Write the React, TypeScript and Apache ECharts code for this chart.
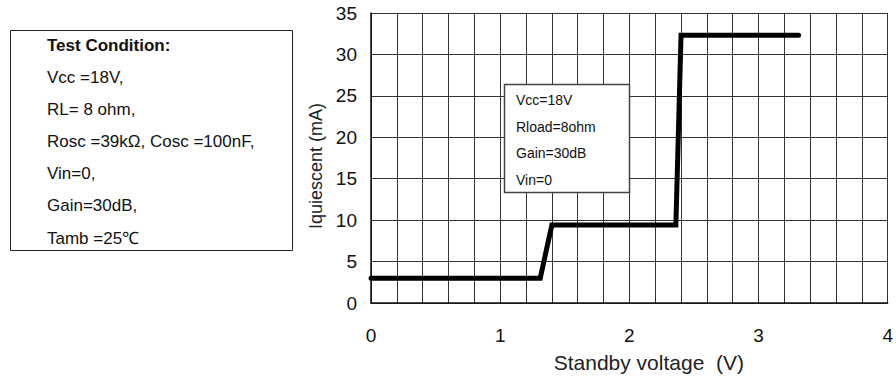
import React, { useEffect, useRef } from "react";
import * as echarts from "echarts";

const xValues = [0, 1.31, 1.4, 2.36, 2.4, 3.31];
const yValues = [3.0, 3.0, 9.4, 9.4, 32.3, 32.3];
const conditionLines = [
  "Vcc =18V,",
  "RL= 8 ohm,",
  "Rosc =39kΩ, Cosc =100nF,",
  "Vin=0,",
  "Gain=30dB,",
  "Tamb =25℃",
];
const legendLines = ["Vcc=18V", "Rload=8ohm", "Gain=30dB", "Vin=0"];
const font = "Arial, 'Liberation Sans', Helvetica, sans-serif";

export default function App() {
  const ref = useRef<HTMLDivElement>(null);
  useEffect(() => {
    if (!ref.current) return;
    const chart = echarts.init(ref.current, null, { renderer: "svg" });
    const graphics: any[] = [
      {
        type: "rect",
        shape: { x: 10.5, y: 30.5, width: 282, height: 220 },
        style: { fill: "#fff", stroke: "#222", lineWidth: 1 },
      },
      {
        type: "text",
        x: 47,
        y: 45,
        style: { text: "Test Condition:", font: `bold 17px ${font}`, fill: "#111", verticalAlign: "middle" },
      },
      ...conditionLines.map((t, i) => ({
        type: "text",
        x: 47,
        y: 77 + i * 32.2,
        style: { text: t, font: `17px ${font}`, fill: "#111", verticalAlign: "middle" },
      })),
      {
        type: "rect",
        z: 10,
        shape: { x: 504.5, y: 84.5, width: 125, height: 108 },
        style: { fill: "#fff", stroke: "#444", lineWidth: 1.5 },
      },
      ...legendLines.map((t, i) => ({
        type: "text",
        z: 11,
        x: 516,
        y: 100 + i * 26.5,
        style: { text: t, font: `14px ${font}`, fill: "#111", verticalAlign: "middle" },
      })),
    ];
    chart.setOption({
      animation: false,
      grid: { left: 371, right: 8, top: 13, bottom: 76, containLabel: false },
      xAxis: {
        type: "value",
        min: 0,
        max: 4,
        interval: 0.2,
        name: "Standby voltage  (V)",
        nameLocation: "middle",
        nameGap: 49,
        nameTextStyle: { fontSize: 21, color: "#222", fontFamily: font, padding: [0, 0, 0, 39] },
        axisLine: { show: true, lineStyle: { color: "#111", width: 1.5 } },
        axisTick: { show: false },
        axisLabel: {
          margin: 23,
          fontSize: 19,
          color: "#111",
          fontFamily: font,
          formatter: (v: number) => (Math.abs(v - Math.round(v)) < 1e-6 ? String(Math.round(v)) : ""),
        },
        splitLine: { show: true, lineStyle: { color: "#333", width: 1 } },
      },
      yAxis: {
        type: "value",
        min: 0,
        max: 35,
        interval: 5,
        name: "Iquiescent (mA)",
        nameLocation: "middle",
        nameGap: 44,
        nameTextStyle: { fontSize: 18, color: "#222", fontFamily: font, padding: [0, 16, 0, 0] },
        axisLine: { show: true, lineStyle: { color: "#111", width: 1.5 } },
        axisTick: { show: false },
        axisLabel: { margin: 14, fontSize: 19, color: "#111", fontFamily: font },
        splitLine: { show: true, lineStyle: { color: "#333", width: 1 } },
      },
      series: [
        {
          type: "line",
          data: xValues.map((x, i) => [x, yValues[i]]),
          symbol: "none",
          lineStyle: { color: "#000", width: 5, cap: "round", join: "miter" },
          z: 5,
        },
      ],
      graphic: graphics,
    });
    return () => chart.dispose();
  }, []);
  return <div ref={ref} style={{ width: 896, height: 379, position: "absolute", left: 0, top: 0, background: "#fff" }} />;
}
